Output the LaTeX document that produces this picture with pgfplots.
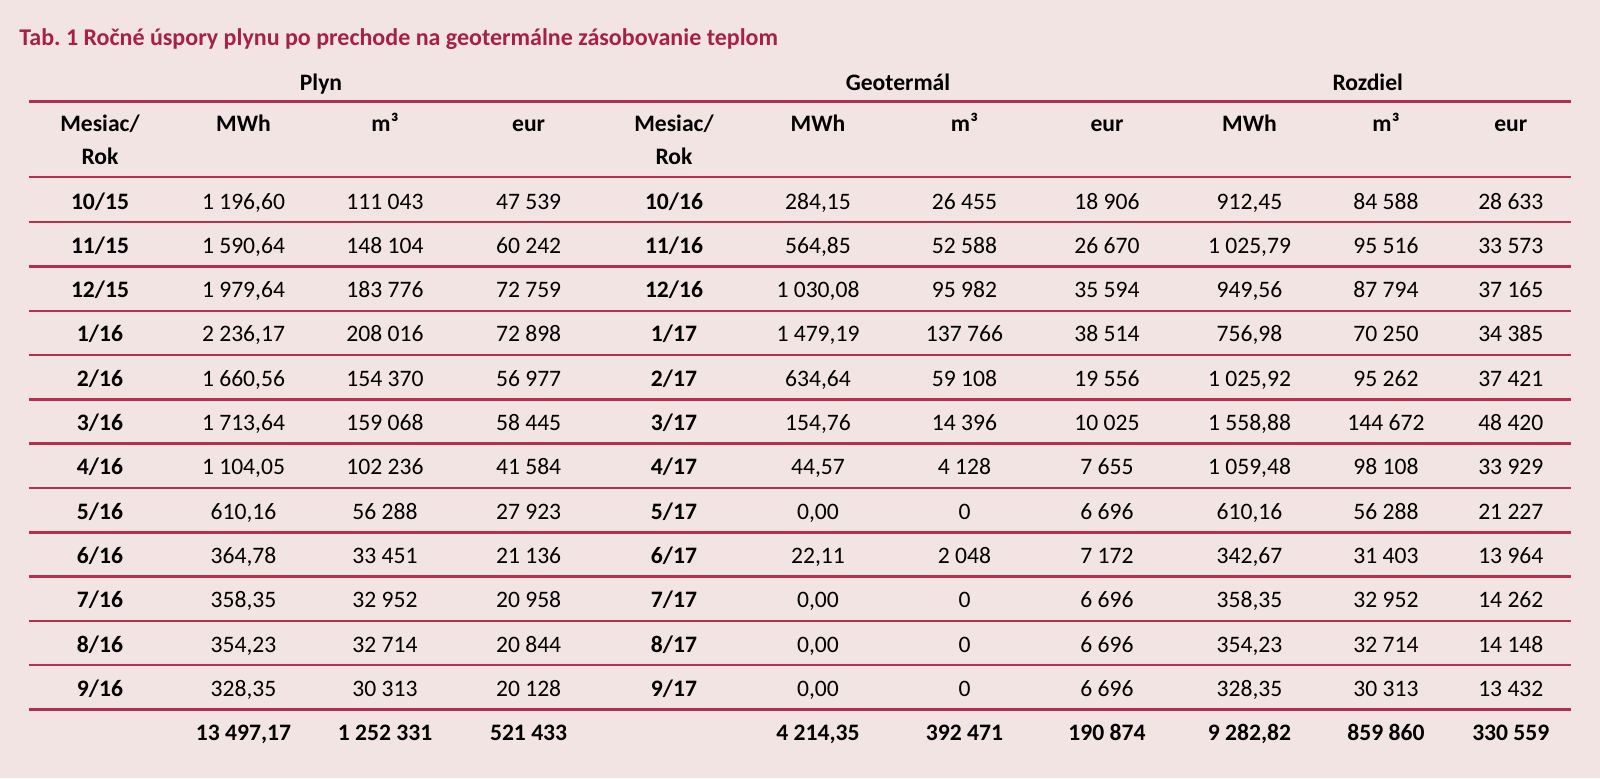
\documentclass[border=0pt]{standalone}
\usepackage{fontspec}
\setmainfont{Carlito}
\usepackage{pgfplots}
\usepackage{pgfplotstable}
\pgfplotsset{compat=1.18}
\definecolor{bg}{HTML}{F2E4E2}
\definecolor{rulec}{HTML}{B3304F}
\definecolor{ttl}{HTML}{A6214A}

\pgfplotstableread[col sep=semicolon]{
y;pmo;pm;pv;pe;gmo;gm;gv;ge;rm;rv;re
201.5;10/15;1 196,60;111 043;47 539;10/16;284,15;26 455;18 906;912,45;84 588;28 633
245.8;11/15;1 590,64;148 104;60 242;11/16;564,85;52 588;26 670;1 025,79;95 516;33 573
290.1;12/15;1 979,64;183 776;72 759;12/16;1 030,08;95 982;35 594;949,56;87 794;37 165
334.4;1/16;2 236,17;208 016;72 898;1/17;1 479,19;137 766;38 514;756,98;70 250;34 385
378.7;2/16;1 660,56;154 370;56 977;2/17;634,64;59 108;19 556;1 025,92;95 262;37 421
423;3/16;1 713,64;159 068;58 445;3/17;154,76;14 396;10 025;1 558,88;144 672;48 420
467.3;4/16;1 104,05;102 236;41 584;4/17;44,57;4 128;7 655;1 059,48;98 108;33 929
511.6;5/16;610,16;56 288;27 923;5/17;0,00;0;6 696;610,16;56 288;21 227
555.9;6/16;364,78;33 451;21 136;6/17;22,11;2 048;7 172;342,67;31 403;13 964
600.2;7/16;358,35;32 952;20 958;7/17;0,00;0;6 696;358,35;32 952;14 262
644.5;8/16;354,23;32 714;20 844;8/17;0,00;0;6 696;354,23;32 714;14 148
688.8;9/16;328,35;30 313;20 128;9/17;0,00;0;6 696;328,35;30 313;13 432
}\rows

\pgfplotstableread[col sep=semicolon]{
y;pm;pv;pe;gm;gv;ge;rm;rv;re
733;13 497,17;1 252 331;521 433;4 214,35;392 471;190 874;9 282,82;859 860;330 559
}\totals

\pgfplotsset{
  cell/.style={only marks, mark=none, point meta=explicit symbolic,
    nodes near coords={\pgfplotspointmeta},
    nodes near coords align={anchor=center},
    every node near coord/.append style={inner sep=0pt, text height=7.5pt, text depth=0pt,
      font=\fontsize{11.8}{14}\selectfont, text=black}},
  bcell/.style={cell, every node near coord/.append style={font=\fontsize{11.8}{14}\selectfont\bfseries}},
  rl/.style={rulec, line width=1.25pt, mark=none},
}
\newcommand\hl[1]{\addplot[rl] coordinates {(28.6,#1) (1571,#1)};}

\begin{document}
\frenchspacing
\begin{tikzpicture}
\begin{axis}[width=800pt, height=389pt, scale only axis,
  xmin=0, xmax=1600, ymin=0, ymax=778, y dir=reverse,
  axis lines=none, clip=false,
  axis background/.style={fill=bg}]

% rules
\hl{101.7}
\hl{177}
\hl{222.2}\hl{266.5}\hl{310.8}\hl{355.1}\hl{399.4}\hl{443.7}
\hl{488}\hl{532.3}\hl{576.6}\hl{620.9}\hl{665.2}\hl{709.5}

% group headers
\addplot[bcell] coordinates {(321,82.5)[Plyn] (898,82.5)[Geotermál] (1367.7,82.5)[Rozdiel]};
% column headers
\addplot[bcell] coordinates {
 (100,123.7)[Mesiac/] (100,157)[Rok] (243.5,123.7)[MWh] (385,123.7)[m³] (528.6,123.7)[eur]
 (674,123.7)[Mesiac/] (674,157)[Rok] (818,123.7)[MWh] (964.5,123.7)[m³] (1107,123.7)[eur]
 (1249.5,123.7)[MWh] (1386,123.7)[m³] (1510.8,123.7)[eur]};

% body
\addplot[bcell] table[x expr=100, y=y, meta=pmo] {\rows};
\addplot[cell] table[x expr=243.5, y=y, meta=pm] {\rows};
\addplot[cell] table[x expr=385, y=y, meta=pv] {\rows};
\addplot[cell] table[x expr=528.6, y=y, meta=pe] {\rows};
\addplot[bcell] table[x expr=674, y=y, meta=gmo] {\rows};
\addplot[cell] table[x expr=818, y=y, meta=gm] {\rows};
\addplot[cell] table[x expr=964.5, y=y, meta=gv] {\rows};
\addplot[cell] table[x expr=1107, y=y, meta=ge] {\rows};
\addplot[cell] table[x expr=1249.5, y=y, meta=rm] {\rows};
\addplot[cell] table[x expr=1386, y=y, meta=rv] {\rows};
\addplot[cell] table[x expr=1510.8, y=y, meta=re] {\rows};

% totals
\addplot[bcell] table[x expr=243.5, y=y, meta=pm] {\totals};
\addplot[bcell] table[x expr=385, y=y, meta=pv] {\totals};
\addplot[bcell] table[x expr=528.6, y=y, meta=pe] {\totals};
\addplot[bcell] table[x expr=818, y=y, meta=gm] {\totals};
\addplot[bcell] table[x expr=964.5, y=y, meta=gv] {\totals};
\addplot[bcell] table[x expr=1107, y=y, meta=ge] {\totals};
\addplot[bcell] table[x expr=1249.5, y=y, meta=rm] {\totals};
\addplot[bcell] table[x expr=1386, y=y, meta=rv] {\totals};
\addplot[bcell] table[x expr=1510.8, y=y, meta=re] {\totals};

% title
\node[anchor=west, inner sep=0pt, text height=7.85pt, text depth=0pt, text=ttl,
  font=\fontsize{12.0}{14}\selectfont\bfseries] at (axis cs:19,37.2)
  {Tab. 1 Ročné úspory plynu po prechode na geotermálne zásobovanie teplom};
\end{axis}
\end{tikzpicture}
\end{document}
